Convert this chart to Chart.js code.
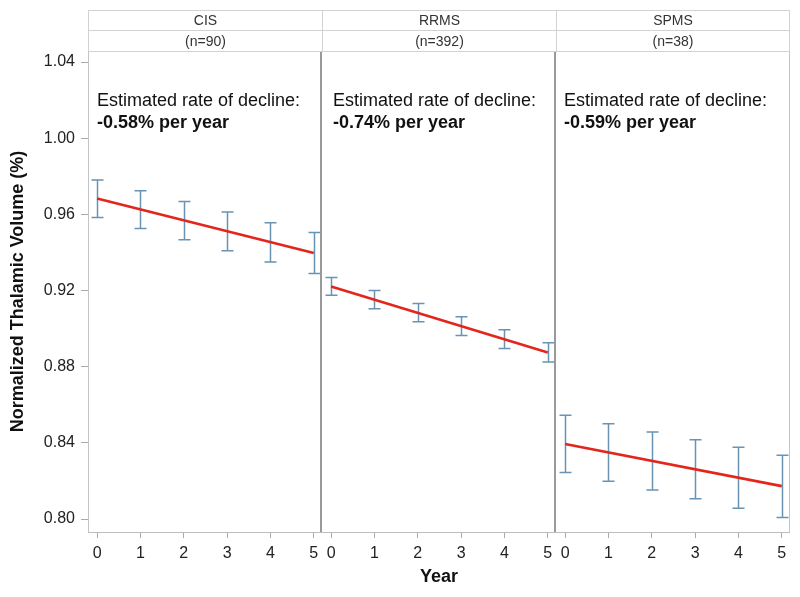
<!DOCTYPE html>
<html><head><meta charset="utf-8">
<script src="https://cdn.jsdelivr.net/npm/chart.js@4"></script>
<style>
body{margin:0;background:#fff;width:800px;height:597px;overflow:hidden;font-family:Arial,"Liberation Sans",sans-serif;}
#wrap{position:relative;width:800px;height:597px;}
canvas{position:absolute;top:0;}
.hdr{position:absolute;border:1px solid #d2d2d2;box-sizing:border-box;text-align:center;color:#333;font-size:14px;}
.ann{position:absolute;font-size:18px;color:#111;line-height:22px;white-space:nowrap;}
</style></head>
<body>
<div id="wrap">
<canvas id="c1" width="322" height="597" style="left:0px"></canvas>
<canvas id="c2" width="234" height="597" style="left:322px"></canvas>
<canvas id="c3" width="234" height="597" style="left:556px"></canvas>
</div>
<script>
// ---- data ----
const years = [0, 1, 2, 3, 4, 5];
const yTicks = [0.80, 0.84, 0.88, 0.92, 0.96, 1.00, 1.04];
const groups = ['CIS', 'RRMS', 'SPMS'];
const groupN = ['(n=90)', '(n=392)', '(n=38)'];
const declineText = ['-0.58% per year', '-0.74% per year', '-0.59% per year'];
const cisLo  = [0.9584, 0.9526, 0.9467, 0.9409, 0.9350, 0.9289];
const cisHi  = [0.9780, 0.9724, 0.9668, 0.9612, 0.9556, 0.9505];
const cisFit = [0.9683, 0.9397];
const rrmsLo  = [0.9175, 0.9104, 0.9036, 0.8964, 0.8896, 0.8825];
const rrmsHi  = [0.9268, 0.9200, 0.9132, 0.9062, 0.8994, 0.8926];
const rrmsFit = [0.9221, 0.8875];
const spmsLo  = [0.8244, 0.8199, 0.8153, 0.8106, 0.8057, 0.8008];
const spmsHi  = [0.8545, 0.8501, 0.8457, 0.8417, 0.8377, 0.8335];
const spmsFit = [0.8394, 0.8173];
const fitYears = [0, 5];

// ---- layout / style ----
const PLOT_TOP = 51, X_AXIS_H = 65, Y_AXIS_W = 88;
const FONT = 'Arial, "Liberation Sans", sans-serif';
const EB_COLOR = '#6893b3';
const LINE_COLOR = '#e3261c';

const errBarPlugin = {
  id: 'errbars',
  beforeDatasetsDraw(chart, args, opts) {
    const {ctx, scales: {x, y}} = chart;
    ctx.save();
    ctx.strokeStyle = EB_COLOR;
    ctx.lineWidth = 1.5;
    opts.lo.forEach((lo, i) => {
      const px = Math.round(x.getPixelForValue(years[i])) + 0.5;
      const pl = y.getPixelForValue(lo), ph = y.getPixelForValue(opts.hi[i]);
      ctx.beginPath();
      ctx.moveTo(px, ph); ctx.lineTo(px, pl);
      ctx.moveTo(px - 6, ph); ctx.lineTo(px + 6, ph);
      ctx.moveTo(px - 6, pl); ctx.lineTo(px + 6, pl);
      ctx.stroke();
    });
    ctx.restore();
  }
};
const framePlugin = {
  id: 'frame',
  afterDraw(chart, args, opts) {
    const {ctx, chartArea: a} = chart;
    ctx.save();
    if (opts.left) {
      ctx.strokeStyle = '#c4c4c4'; ctx.lineWidth = 1;
      ctx.beginPath(); ctx.moveTo(a.left + 0.5, a.top); ctx.lineTo(a.left + 0.5, a.bottom); ctx.stroke();
    }
    ctx.strokeStyle = opts.rightColor; ctx.lineWidth = opts.rightWidth;
    const rx = a.right - opts.rightWidth / 2;
    ctx.beginPath(); ctx.moveTo(rx, a.top); ctx.lineTo(rx, a.bottom); ctx.stroke();
    ctx.restore();
  }
};

function makeChart(id, lo, hi, fit, showY, showXTitle, frame) {
  return new Chart(document.getElementById(id), {
    type: 'line',
    data: {
      datasets: [{
        data: fitYears.map((yr, i) => ({x: yr, y: fit[i]})),
        borderColor: LINE_COLOR, borderWidth: 2.6, pointRadius: 0, tension: 0
      }]
    },
    options: {
      responsive: false, animation: false,
      layout: {padding: {top: PLOT_TOP, left: 0, right: 0, bottom: 0}},
      plugins: {legend: {display: false}, tooltip: {enabled: false},
        errbars: {lo: lo, hi: hi}, frame: frame},
      scales: {
        x: {
          type: 'linear', min: -0.21, max: 5.19,
          afterBuildTicks: s => { s.ticks = years.map(v => ({value: v})); },
          afterFit: s => { s.height = X_AXIS_H; s.paddingLeft = 0; s.paddingRight = 0; },
          grid: {drawOnChartArea: false, drawTicks: true, tickLength: 6, color: '#aaaaaa'},
          border: {display: true, color: '#bdbdbd'},
          ticks: {padding: 6, color: '#222', font: {family: FONT, size: 16}, maxRotation: 0,
                  callback: v => String(v)},
          title: {display: showXTitle, text: 'Year', color: '#111',
                  font: {family: FONT, size: 18, weight: 'bold'}, padding: {top: 0, bottom: 9}}
        },
        y: {
          display: showY, min: 0.7932, max: 1.0458,
          afterBuildTicks: s => { s.ticks = yTicks.map(v => ({value: v})); },
          afterFit: s => { s.width = showY ? Y_AXIS_W : 0; },
          grid: {drawOnChartArea: false, drawTicks: true, tickLength: 7, color: '#aaaaaa'},
          border: {display: false},
          ticks: {padding: 6, color: '#222', font: {family: FONT, size: 16},
                  callback: v => Number(v).toFixed(2)},
          title: {display: true, text: 'Normalized Thalamic Volume (%)', color: '#111',
                  font: {family: FONT, size: 18, weight: 'bold'}, padding: {top: 7, bottom: 0}}
        }
      }
    },
    plugins: [errBarPlugin, framePlugin]
  });
}

makeChart('c1', cisLo, cisHi, cisFit, true, false, {left: true, rightColor: '#9a9a9a', rightWidth: 2});
makeChart('c2', rrmsLo, rrmsHi, rrmsFit, false, true, {left: false, rightColor: '#9a9a9a', rightWidth: 2});
makeChart('c3', spmsLo, spmsHi, spmsFit, false, false, {left: false, rightColor: '#c4c4c4', rightWidth: 1});

// ---- headers & annotations (HTML text) ----
const wrap = document.getElementById('wrap');
const colLeft = [88, 322, 556], colW = [235, 235, 234];
const annLeft = [97, 333, 564];
groups.forEach((g, i) => {
  const h1 = document.createElement('div');
  h1.className = 'hdr';
  Object.assign(h1.style, {left: colLeft[i] + 'px', top: '10px', width: colW[i] + 'px', height: '21px', lineHeight: '19px'});
  h1.textContent = g; wrap.appendChild(h1);
  const h2 = document.createElement('div');
  h2.className = 'hdr';
  Object.assign(h2.style, {left: colLeft[i] + 'px', top: '30px', width: colW[i] + 'px', height: '22px', lineHeight: '20px'});
  h2.textContent = groupN[i]; wrap.appendChild(h2);
  const a = document.createElement('div');
  a.className = 'ann';
  Object.assign(a.style, {left: annLeft[i] + 'px', top: '89px'});
  a.innerHTML = 'Estimated rate of decline:<br><b>' + declineText[i] + '</b>';
  wrap.appendChild(a);
});
</script>
</body></html>
